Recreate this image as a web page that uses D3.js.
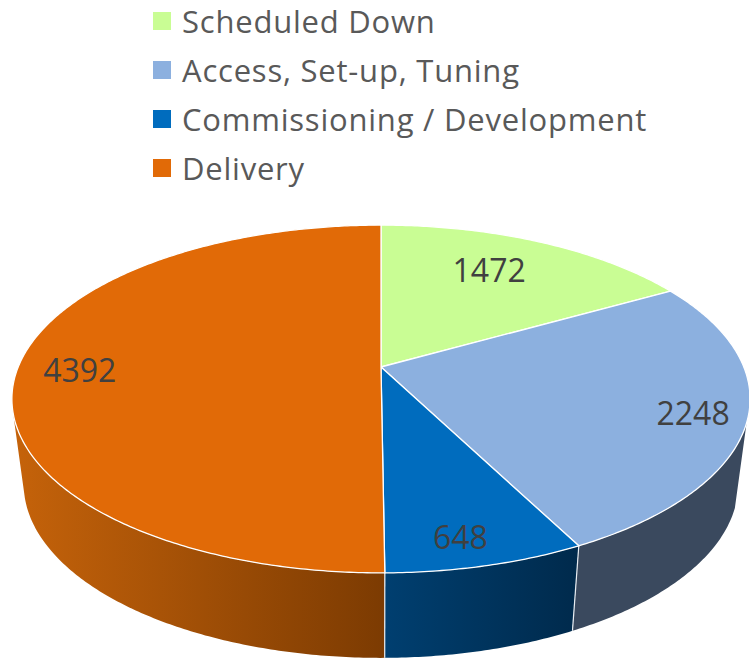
<!DOCTYPE html>
<html>
<head>
<meta charset="utf-8">
<script src="https://cdn.jsdelivr.net/npm/d3@7"></script>
<style>
html,body{margin:0;padding:0;background:#fff;}
svg{display:block;}
text{font-family:"Open Sans",sans-serif;}
</style>
</head>
<body>
<svg id="chart" width="749" height="658"></svg>
<script>
const categories = ["Scheduled Down", "Access, Set-up, Tuning", "Commissioning / Development", "Delivery"];
const hours = [1472, 2248, 648, 4392];
const topColors = ["#C9FD94", "#8CB0DF", "#006CBE", "#E16A07"];

// Layout of the tilted disc
const cx = 381, cy = 367, A = 362.8, B = 168, K = 0.184, depth = 85, shrink = 0.968;
const labelReach = [0.66, 0.86, 0.88, 0.82];
const labelNudge = [[-1, -10], [-1, 3], [-11, 0], [-3.5, 3]];
const silhouetteRight = 108.3 * Math.PI / 180, silhouetteLeft = 254.9 * Math.PI / 180;

const svg = d3.select("#chart");

const project = (angle, r = 1) => {
  const x = Math.sin(angle) * r, y = -Math.cos(angle) * r, w = 1 - K * y;
  return [cx + A * x / w, cy + B * y / w];
};
const projectLow = (angle) => {
  const [x, y] = project(angle);
  return [cx + (x - cx) * shrink, y + depth];
};
const arcAngles = (a0, a1) => {
  const n = Math.max(2, Math.ceil((a1 - a0) / 0.01));
  return d3.range(n + 1).map(i => a0 + (a1 - a0) * i / n);
};
const line = d3.line();

const arcs = d3.pie().sort(null).value(d => d)(hours);

// Side gradients
const defs = svg.append("defs");
const gradient = (id, x1, x2, stops) => {
  const g = defs.append("linearGradient").attr("id", id)
    .attr("gradientUnits", "userSpaceOnUse")
    .attr("x1", x1).attr("x2", x2).attr("y1", 0).attr("y2", 0);
  stops.forEach((c, i) => g.append("stop").attr("offset", i / (stops.length - 1)).attr("stop-color", c));
};
gradient("sideNavy", project(arcs[3].startAngle)[0], project(arcs[2].startAngle)[0], ["#003F70", "#002A4C"]);
gradient("sideOrange", 20, project(arcs[3].startAngle)[0], ["#C4620A", "#7C3B02"]);

const sideFill = ["none", "#3A495E", "url(#sideNavy)", "url(#sideOrange)"];

// Visible wall of each slice
const sides = arcs.map((d, i) => {
  const a0 = Math.max(d.startAngle, i === 1 ? silhouetteRight : d.startAngle);
  const a1 = Math.min(d.endAngle, i === 3 ? silhouetteLeft : d.endAngle);
  return {i, a0, a1};
}).filter(d => d.a1 > d.a0 && sideFill[d.i] !== "none");

svg.append("g").selectAll("path").data(sides).join("path")
  .attr("d", d => {
    const as = arcAngles(d.a0, d.a1);
    return line(as.map(a => project(a)).concat(as.slice().reverse().map(a => projectLow(a)))) + "Z";
  })
  .attr("fill", d => sideFill[d.i]);

// Seams on the wall
svg.append("g").selectAll("line").data([arcs[2].startAngle, arcs[3].startAngle]).join("line")
  .attr("x1", a => project(a)[0]).attr("y1", a => project(a)[1])
  .attr("x2", a => projectLow(a)[0]).attr("y2", a => projectLow(a)[1])
  .attr("stroke", "#E8EDF2").attr("stroke-width", 1.2);

// Top face
svg.append("g").selectAll("path").data(arcs).join("path")
  .attr("d", d => {
    const pts = [[cx, cy]].concat(arcAngles(d.startAngle, d.endAngle).map(a => project(a)));
    return line(pts) + "Z";
  })
  .attr("fill", (d, i) => topColors[i])
  .attr("stroke", "#fff").attr("stroke-width", 1.3).attr("stroke-linejoin", "round");

// Value labels
svg.append("g").selectAll("text").data(arcs).join("text")
  .attr("x", (d, i) => project((d.startAngle + d.endAngle) / 2, labelReach[i])[0] + labelNudge[i][0])
  .attr("y", (d, i) => project((d.startAngle + d.endAngle) / 2, labelReach[i])[1] + labelNudge[i][1])
  .attr("dy", "0.36em")
  .attr("text-anchor", "middle")
  .attr("font-size", 32).attr("fill", "#404040")
  .text(d => d.value);

// Legend
const legendY = d3.scalePoint().domain(categories).range([21, 168]);
const legend = svg.append("g").selectAll("g").data(categories).join("g")
  .attr("transform", d => `translate(0,${legendY(d)})`);
legend.append("rect").attr("x", 153).attr("y", -9).attr("width", 18).attr("height", 18)
  .attr("fill", (d, i) => topColors[i]);
legend.append("text").attr("x", 182).attr("y", 12.4)
  .attr("font-size", 31).attr("letter-spacing", 0.78).attr("fill", "#595959")
  .text(d => d);
</script>
</body>
</html>
